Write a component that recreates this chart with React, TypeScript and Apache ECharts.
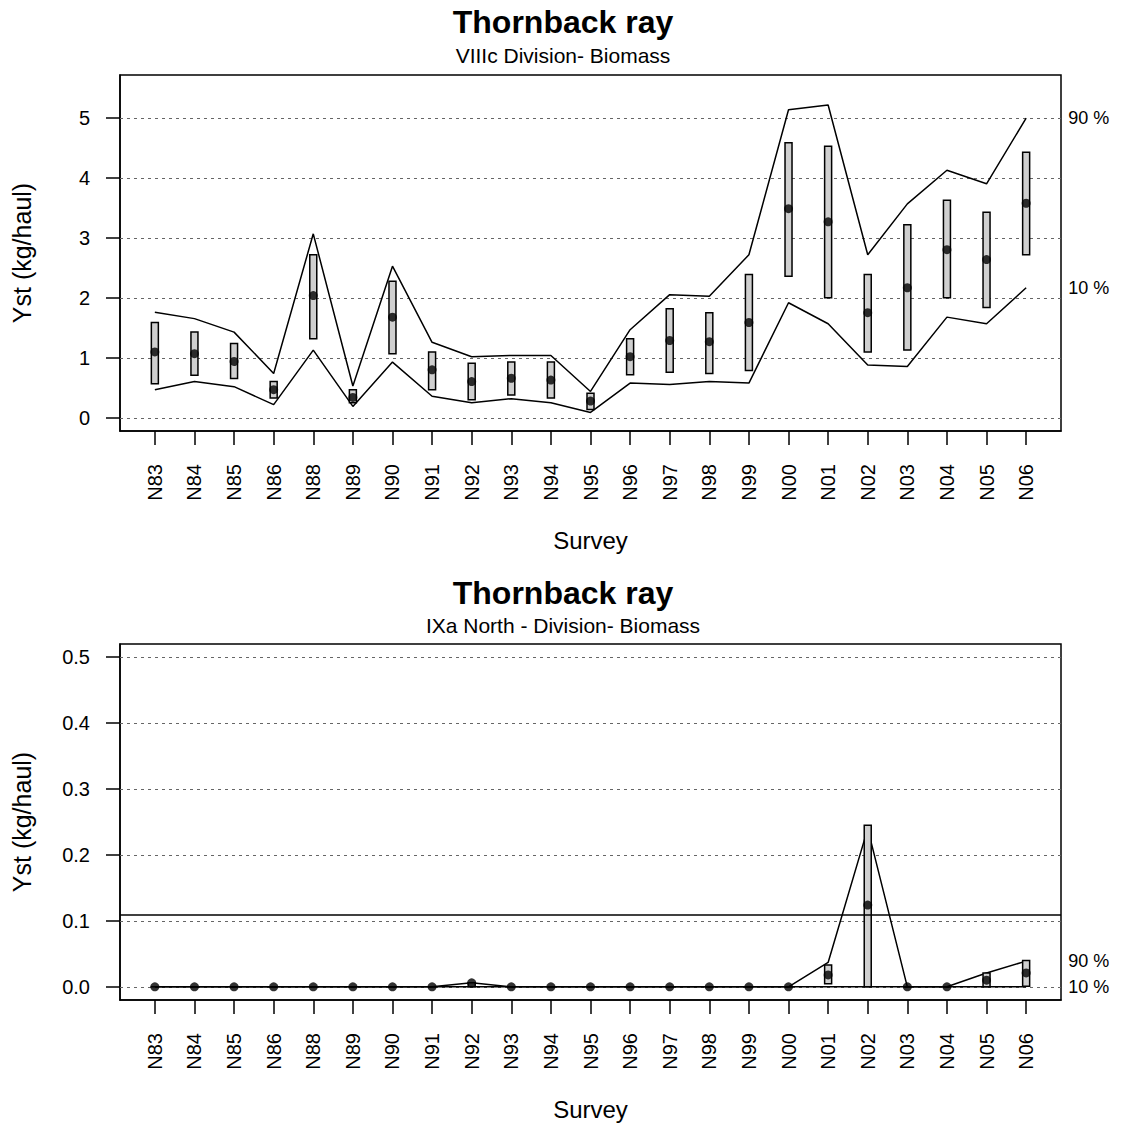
import React, { useEffect, useRef } from "react";
import * as echarts from "echarts";

const categories = ["N83","N84","N85","N86","N88","N89","N90","N91","N92","N93","N94","N95","N96","N97","N98","N99","N00","N01","N02","N03","N04","N05","N06"];

// Top panel: VIIIc Division
const topMean = [1.10,1.07,0.94,0.47,2.04,0.34,1.68,0.80,0.605,0.66,0.63,0.28,1.02,1.29,1.27,1.59,3.49,3.27,1.755,2.17,2.805,2.64,3.58];
const topBoxLow = [0.57,0.71,0.655,0.33,1.32,0.25,1.07,0.47,0.30,0.38,0.33,0.14,0.72,0.76,0.74,0.79,2.36,2.005,1.10,1.13,2.005,1.84,2.72];
const topBoxHigh = [1.59,1.43,1.24,0.605,2.72,0.47,2.28,1.10,0.91,0.93,0.93,0.41,1.32,1.82,1.755,2.39,4.59,4.53,2.39,3.22,3.63,3.43,4.43];
const topP90 = [1.76,1.655,1.43,0.74,3.07,0.53,2.53,1.26,1.02,1.04,1.04,0.44,1.47,2.055,2.03,2.72,5.14,5.22,2.72,3.57,4.13,3.905,5.0];
const topP10 = [0.47,0.605,0.52,0.22,1.13,0.19,0.93,0.36,0.25,0.32,0.25,0.09,0.58,0.555,0.605,0.58,1.92,1.57,0.88,0.855,1.68,1.57,2.17];
const topTicks = [0, 1, 2, 3, 4, 5];

// Bottom panel: IXa North
const botMean = [0,0,0,0,0,0,0,0,0.006,0,0,0,0,0,0,0,0,0.018,0.124,0,0,0.010,0.021];
const botBoxLow = [0,0,0,0,0,0,0,0,0,0,0,0,0,0,0,0,0,0.0045,0,0,0,0,0.001];
const botBoxHigh = [0,0,0,0,0,0,0,0,0.006,0,0,0,0,0,0,0,0,0.033,0.245,0,0,0.021,0.040];
const botP90 = [0,0,0,0,0,0,0,0,0.006,0,0,0,0,0,0,0,0,0.037,0.24,0,0,0.021,0.039];
const botP10 = [0,0,0,0,0,0,0,0,0,0,0,0,0,0,0,0,0,0,0,0,0,0,0];
const botTicks = [0, 0.1, 0.2, 0.3, 0.4, 0.5];
const botRefLine = 0.111;

const FONT = "'Liberation Sans', Arial, Helvetica, sans-serif";
const xIdx = categories.map((_, i) => i + 1);

function panelSeries(gi: number, mean: number[], lo: number[], hi: number[], p90: number[], p10: number[], ticks: number[], ref: number | null) {
  const gridLines: any[] = ticks.map((t) => ({ yAxis: t }));
  const series: any[] = [
    {
      type: "line",
      xAxisIndex: gi, yAxisIndex: gi,
      data: xIdx.map((x, i) => [x, p90[i]]),
      showSymbol: false, symbol: "none",
      lineStyle: { color: "#000", width: 1.5 },
      z: 2, silent: true,
      endLabel: { show: true, formatter: "90 %", distance: 42, fontSize: 18, color: "#000", fontFamily: FONT },
      markLine: {
        silent: true, symbol: "none", label: { show: false },
        lineStyle: { color: "#666", type: [3, 4], width: 1.2 },
        data: gridLines,
        z: 1,
      },
    },
    {
      type: "line",
      xAxisIndex: gi, yAxisIndex: gi,
      data: xIdx.map((x, i) => [x, p10[i]]),
      showSymbol: false, symbol: "none",
      lineStyle: { color: "#000", width: 1.5 },
      z: 2, silent: true,
      endLabel: { show: true, formatter: "10 %", distance: 42, fontSize: 18, color: "#000", fontFamily: FONT },
      markLine: ref === null ? undefined : {
        silent: true, symbol: "none", label: { show: false },
        lineStyle: { color: "#000", type: "solid", width: 1.5 },
        data: [{ yAxis: ref }],
      },
    },
    {
      type: "custom",
      xAxisIndex: gi, yAxisIndex: gi,
      data: xIdx.map((x, i) => [x, lo[i], hi[i]]),
      encode: { x: 0, y: [1, 2] },
      z: 3, silent: true,
      renderItem: (params: any, api: any) => {
        const x = api.value(0);
        const a = api.coord([x, api.value(2)]);
        const b = api.coord([x, api.value(1)]);
        const w = 7;
        return {
          type: "rect",
          shape: { x: a[0] - w / 2, y: a[1], width: w, height: Math.max(b[1] - a[1], 0.01) },
          style: { fill: "#cfcfcf", stroke: "#000", lineWidth: 1.5 },
        };
      },
    },
    {
      type: "scatter",
      xAxisIndex: gi, yAxisIndex: gi,
      data: xIdx.map((x, i) => [x, mean[i]]),
      symbol: "circle", symbolSize: 9,
      itemStyle: { color: "#000" },
      z: 4, silent: true,
    },
  ];
  return series;
}

function xAxisDef(gi: number) {
  return {
    type: "value",
    gridIndex: gi,
    min: 0.12, max: 23.88,
    name: "Survey",
    nameLocation: "middle",
    nameGap: 97,
    nameTextStyle: { fontSize: 24, color: "#000", fontFamily: FONT },
    axisLine: { show: true, onZero: false, lineStyle: { color: "#000", width: 1.5 } },
    axisTick: { show: true, length: 14, customValues: xIdx, lineStyle: { color: "#000", width: 1.5 } },
    axisLabel: {
      customValues: xIdx,
      rotate: 90, margin: 33, fontSize: 20, color: "#000", fontFamily: FONT,
      formatter: (v: number) => categories[Math.round(v) - 1] ?? "",
    },
    splitLine: { show: false },
  };
}

function yAxisDef(gi: number, min: number, max: number, ticks: number[], dec: number) {
  return {
    type: "value",
    gridIndex: gi,
    min, max,
    name: "Yst (kg/haul)",
    nameLocation: "middle",
    nameGap: 86,
    nameTextStyle: { fontSize: 25, color: "#000", fontFamily: FONT },
    axisLine: { show: true, onZero: false, lineStyle: { color: "#000", width: 1.5 } },
    axisTick: { show: true, length: 14, customValues: ticks, lineStyle: { color: "#000", width: 1.5 } },
    axisLabel: {
      customValues: ticks,
      margin: 30, fontSize: 20, color: "#000", fontFamily: FONT,
      formatter: (v: number) => v.toFixed(dec),
    },
    splitLine: { show: false },
  };
}

export default function App() {
  const ref = useRef<HTMLDivElement>(null);
  useEffect(() => {
    if (!ref.current) return;
    const chart = echarts.init(ref.current, undefined, { renderer: "svg" });
    chart.setOption({
      animation: false,
      backgroundColor: "#fff",
      textStyle: { fontFamily: FONT },
      title: [
        {
          text: "Thornback ray", subtext: "VIIIc Division- Biomass",
          left: "center", top: 1, itemGap: 7,
          textStyle: { fontSize: 32, fontWeight: "bold", color: "#000", fontFamily: FONT },
          subtextStyle: { fontSize: 21, color: "#000", fontFamily: FONT },
        },
        {
          text: "Thornback ray", subtext: "IXa North - Division- Biomass",
          left: "center", top: 572, itemGap: 6,
          textStyle: { fontSize: 32, fontWeight: "bold", color: "#000", fontFamily: FONT },
          subtextStyle: { fontSize: 21, color: "#000", fontFamily: FONT },
        },
      ],
      grid: [
        { left: 120, top: 75, width: 941, height: 356, show: true, borderColor: "#000", borderWidth: 1.5, backgroundColor: "transparent" },
        { left: 120, top: 644, width: 941, height: 356, show: true, borderColor: "#000", borderWidth: 1.5, backgroundColor: "transparent" },
      ],
      xAxis: [xAxisDef(0), xAxisDef(1)],
      yAxis: [yAxisDef(0, -0.22, 5.72, topTicks, 0), yAxisDef(1, -0.02, 0.52, botTicks, 1)],
      series: [
        ...panelSeries(0, topMean, topBoxLow, topBoxHigh, topP90, topP10, topTicks, null),
        ...panelSeries(1, botMean, botBoxLow, botBoxHigh, botP90, botP10, botTicks, botRefLine),
      ],
    });
    return () => chart.dispose();
  }, []);
  return <div ref={ref} style={{ position: "absolute", left: 0, top: 0, width: 1126, height: 1126 }} />;
}
